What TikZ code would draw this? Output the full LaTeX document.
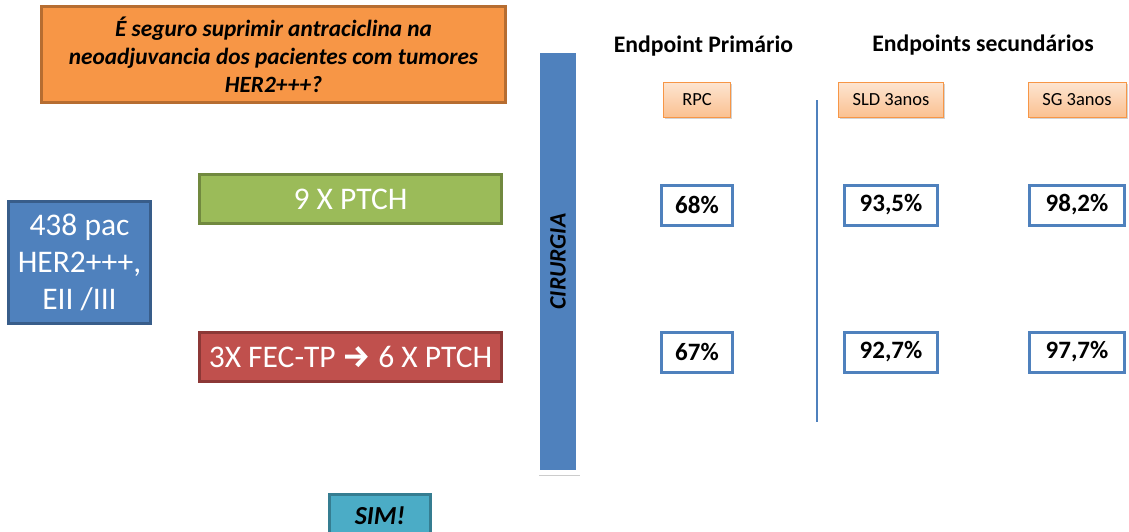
\documentclass[tikz,border=0pt]{standalone}
\usepackage{fontspec}
\setmainfont{Carlito}
\newfontfamily\arrowfont{Fira Sans}
\usetikzlibrary{shadows}

\definecolor{slideOrange}{HTML}{F79646}
\definecolor{slideOrangeDk}{HTML}{B66D31}
\definecolor{slideBlue}{HTML}{4F81BD}
\definecolor{slideBlueDk}{HTML}{385D8A}
\definecolor{slideGreen}{HTML}{9BBB59}
\definecolor{slideGreenDk}{HTML}{71893F}
\definecolor{slideRed}{HTML}{C0504D}
\definecolor{slideRedDk}{HTML}{8C3836}
\definecolor{slideTeal}{HTML}{4BACC6}
\definecolor{slideTealDk}{HTML}{357D91}

\tikzset{
  armbox/.style={draw, line width=3pt, inner sep=0pt, minimum width=302pt, minimum height=49pt, text=white, font=\fontsize{31.5}{36}\selectfont},
  tagbox/.style={draw=slideOrange, line width=0.8pt, top color=slideOrange!25, bottom color=slideOrange!60, minimum height=35pt, inner sep=0pt, font=\fontsize{18.5}{22}\selectfont, drop shadow={opacity=0.35, shadow xshift=1.5pt, shadow yshift=-1.5pt}},
  resbox/.style={draw=slideBlue, line width=3pt, fill=white, minimum height=40pt, inner sep=0pt, font=\fontsize{25}{28}\selectfont\bfseries},
  headtxt/.style={anchor=base, font=\fontsize{23.7}{28}\selectfont\bfseries}
}

\begin{document}
\begin{tikzpicture}[x=1pt,y=-1pt]
    \useasboundingbox (0,0) rectangle (1129,531);
    \clip (0,0) rectangle (1129,531);

    % columns and rows of the results
    \node at (697,0) (RPCxpos) {};
    \node at (891,0) (SLDxpos) {};
    \node at (1077,0) (SGxpos) {};
    \node at (0,100) (tagypos) {};
    \node at (0,205) (topypos) {};
    \node at (0,352) (botypos) {};

    \node[draw=slideOrangeDk, fill=slideOrange, line width=3pt, minimum width=464pt, minimum height=96pt, inner sep=0pt, align=center, font=\fontsize{23.3}{28}\selectfont\bfseries\itshape] at (273.5,54.5) (Qst) {É seguro suprimir antraciclina na\\neoadjuvancia dos pacientes com tumores\\HER2+++?};

    \node[draw=slideBlueDk, fill=slideBlue, line width=3pt, minimum width=142pt, minimum height=122pt, inner sep=0pt, align=center, text=white, font=\fontsize{31.5}{37}\selectfont] at (79.5,262.5) (Pac) {438 pac\\HER2+++,\\EII /III};

    \node[armbox, draw=slideGreenDk, fill=slideGreen] at (350.5,199) (PTCH) {9 X PTCH};
    \node[armbox, draw=slideRedDk, fill=slideRed] at (350.5,356.5) (FEC) {3X FEC-TP {\arrowfont\bfseries →} 6 X PTCH};

    \node[draw=white, fill=slideBlue, line width=5pt, minimum width=41pt, minimum height=422pt, inner sep=0pt, drop shadow={opacity=0.4, shadow xshift=1pt, shadow yshift=-3pt}] at (558,261.5) (Cir) {};
    \node[rotate=90, font=\fontsize{23.5}{26}\selectfont\bfseries\itshape] at (Cir) (CirTxt) {CIRURGIA};

    \node[draw=slideTealDk, fill=slideTeal, line width=3pt, minimum width=101pt, minimum height=43pt, inner sep=0pt, font=\fontsize{26}{30}\selectfont\bfseries\itshape] at (380,516) (Sim) {SIM!};

    \node[headtxt] at (703.5,52) (EpP) {Endpoint Primário};
    \node[headtxt] at (983,51) (EpS) {Endpoints secundários};

    \node[tagbox, minimum width=67pt] at (RPCxpos |- tagypos) (RPC) {RPC};
    \node[tagbox, minimum width=105pt] at (SLDxpos |- tagypos) (SLD) {SLD 3anos};
    \node[tagbox, minimum width=98pt] at (SGxpos |- tagypos) (SG) {SG 3anos};

    \coordinate (divtop) at (817,100);
    \coordinate (divbot) at (817,422);
    \draw[slideBlue, line width=1.5pt] (divtop) -- (divbot);

    \node[resbox, minimum width=71pt] at (RPCxpos |- topypos) (RPCa) {68\%};
    \node[resbox, minimum width=93pt] at (SLDxpos |- topypos) (SLDa) {93,5\%};
    \node[resbox, minimum width=95pt] at (SGxpos |- topypos) (SGa) {98,2\%};
    \node[resbox, minimum width=71pt] at (RPCxpos |- botypos) (RPCb) {67\%};
    \node[resbox, minimum width=93pt] at (SLDxpos |- botypos) (SLDb) {92,7\%};
    \node[resbox, minimum width=95pt] at (SGxpos |- botypos) (SGb) {97,7\%};
\end{tikzpicture}
\end{document}
